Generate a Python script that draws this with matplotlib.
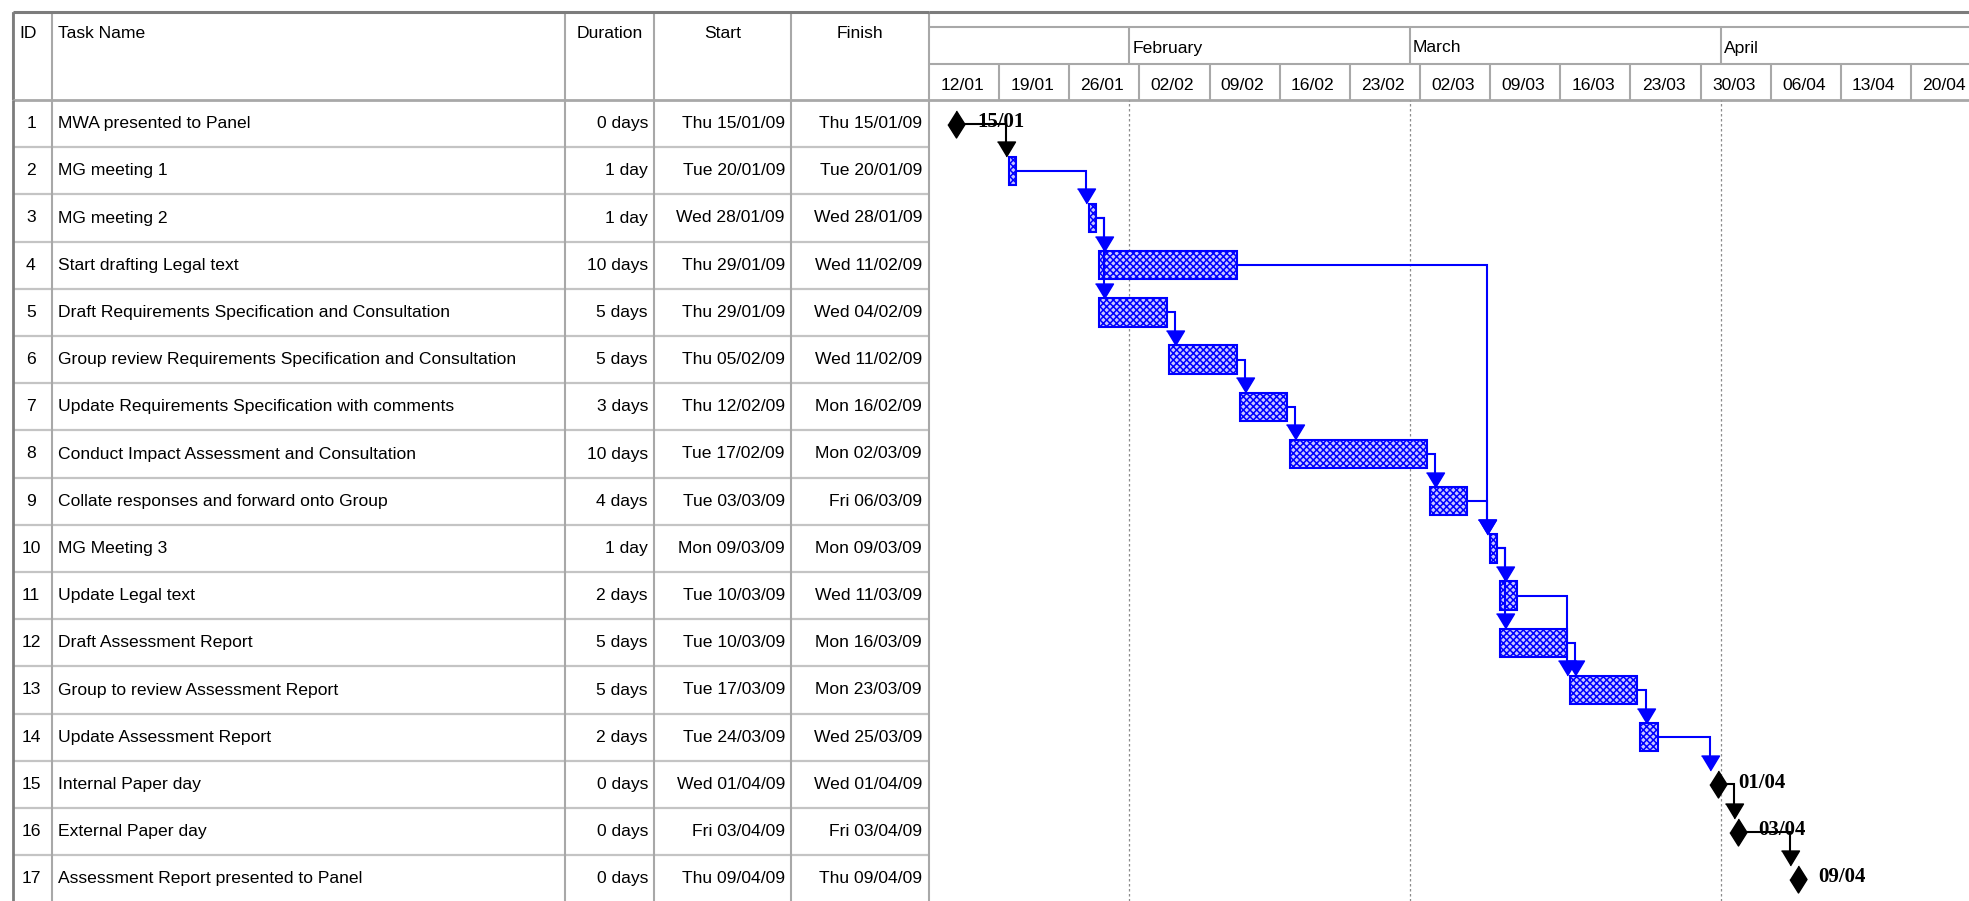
import numpy as np
import pandas as pd
import matplotlib
matplotlib.use("Agg")
import matplotlib.pyplot as plt
import matplotlib.dates as mdates
from matplotlib.patches import Rectangle
from matplotlib import font_manager

# Step 1: task table
task_ids = np.arange(1, 18)
task_names = [
    "MWA presented to Panel",
    "MG meeting 1",
    "MG meeting 2",
    "Start drafting Legal text",
    "Draft Requirements Specification and Consultation",
    "Group review Requirements Specification and Consultation",
    "Update Requirements Specification with comments",
    "Conduct Impact Assessment and Consultation",
    "Collate responses and forward onto Group",
    "MG Meeting 3",
    "Update Legal text",
    "Draft Assessment Report",
    "Group to review Assessment Report",
    "Update Assessment Report",
    "Internal Paper day",
    "External Paper day",
    "Assessment Report presented to Panel",
]
durations = ["0 days", "1 day", "1 day", "10 days", "5 days", "5 days", "3 days", "10 days",
             "4 days", "1 day", "2 days", "5 days", "5 days", "2 days", "0 days", "0 days",
             "0 days"]
starts = ["Thu 15/01/09", "Tue 20/01/09", "Wed 28/01/09", "Thu 29/01/09", "Thu 29/01/09",
          "Thu 05/02/09", "Thu 12/02/09", "Tue 17/02/09", "Tue 03/03/09", "Mon 09/03/09",
          "Tue 10/03/09", "Tue 10/03/09", "Tue 17/03/09", "Tue 24/03/09", "Wed 01/04/09",
          "Fri 03/04/09", "Thu 09/04/09"]
finishes = ["Thu 15/01/09", "Tue 20/01/09", "Wed 28/01/09", "Wed 11/02/09", "Wed 04/02/09",
            "Wed 11/02/09", "Mon 16/02/09", "Mon 02/03/09", "Fri 06/03/09", "Mon 09/03/09",
            "Wed 11/03/09", "Mon 16/03/09", "Mon 23/03/09", "Wed 25/03/09", "Wed 01/04/09",
            "Fri 03/04/09", "Thu 09/04/09"]
predecessors = [[], [1], [2], [3], [3], [5], [6], [7], [8], [4, 9], [10], [10], [11, 12],
                [13], [14], [15], [16]]

# timescale
week_labels = ["12/01", "19/01", "26/01", "02/02", "09/02", "16/02", "23/02", "02/03",
               "09/03", "16/03", "23/03", "30/03", "06/04", "13/04", "20/04"]
month_labels = ["February", "March", "April"]
month_starts = ["01/02/09", "01/03/09", "01/04/09"]

# Step 2: layout (pixels of the 1969x901 screenshot)
W, H = 1969, 901
TOP, TIER1, TIER2, HEAD = 12, 27, 64, 100
ROW_H = 47.2
COLS = [13, 52, 565, 654, 791, 929]
DAY_PX = 10.02
GRID = "#a8a8a8"
BORDER = "#7c7c7c"

names = {f.name for f in font_manager.fontManager.ttflist}
if "Liberation Sans Narrow" in names:
    plt.rcParams["font.family"] = ["Liberation Sans Narrow", "DejaVu Sans"]
    FS = 15
else:
    plt.rcParams["font.family"] = ["Liberation Sans", "DejaVu Sans"]
    FS = 12.6
plt.rcParams["hatch.linewidth"] = 1.1


def to_num(labels):
    d = pd.to_datetime([s.split()[-1] for s in labels], format="%d/%m/%y")
    return mdates.date2num(d)


start_num = to_num(starts)
finish_num = to_num(finishes)
milestone = np.array([d.startswith("0 ") for d in durations])
bar_left = start_num
bar_right = finish_num + 17 / 24
ms_x = start_num - 7 / 24
week_num = to_num([w + "/09" for w in week_labels])
month_num = to_num(month_starts)

fig = plt.figure(figsize=(W / 100, H / 100), dpi=100)


def add_ax(x0, y0, x1, y1):
    ax = fig.add_axes([x0 / W, 1 - y1 / H, (x1 - x0) / W, (y1 - y0) / H])
    ax.set_axis_off()
    return ax


y_bottom = 0.5 + (H - HEAD) / ROW_H
x_left = week_num[0]
x_right = x_left + (W - COLS[-1]) / DAY_PX

ax_ht = add_ax(0, 0, COLS[-1], HEAD)
ax_ht.set_xlim(0, COLS[-1])
ax_ht.set_ylim(HEAD, 0)
ax_hg = add_ax(COLS[-1], 0, W, HEAD)
ax_hg.set_xlim(x_left, x_right)
ax_hg.set_ylim(HEAD, 0)
ax_tab = add_ax(0, HEAD, COLS[-1], H)
ax_tab.set_xlim(0, COLS[-1])
ax_tab.set_ylim(y_bottom, 0.5)
ax_g = add_ax(COLS[-1], HEAD, W, H)
ax_g.set_xlim(x_left, x_right)
ax_g.set_ylim(y_bottom, 0.5)

# Step 3: table header and body
ax_ht.text(19, 33, "ID", ha="left", va="center", fontsize=FS)
ax_ht.text(58, 33, "Task Name", ha="left", va="center", fontsize=FS)
for (a, b), label in zip([(COLS[2], COLS[3]), (COLS[3], COLS[4]), (COLS[4], COLS[5])],
                         ["Duration", "Start", "Finish"]):
    ax_ht.text((a + b) / 2, 33, label, ha="center", va="center", fontsize=FS)
ax_ht.vlines(COLS, TOP, HEAD, colors=GRID, lw=1.5, clip_on=False)
ax_ht.vlines(COLS[0], TOP, HEAD, colors=BORDER, lw=2, clip_on=False)
ax_ht.hlines(TOP, COLS[0], COLS[-1], colors=BORDER, lw=2.2, clip_on=False)
ax_ht.hlines(HEAD, COLS[0], COLS[-1], colors=GRID, lw=2, clip_on=False)

rows = np.arange(1, len(task_ids) + 1)
for y, tid, name, dur, st, fi in zip(rows, task_ids, task_names, durations, starts, finishes):
    ax_tab.text(31, y, str(tid), ha="center", va="center", fontsize=FS)
    ax_tab.text(58, y, name, ha="left", va="center", fontsize=FS)
    ax_tab.text(648, y, dur, ha="right", va="center", fontsize=FS)
    ax_tab.text(785, y, st, ha="right", va="center", fontsize=FS)
    ax_tab.text(922, y, fi, ha="right", va="center", fontsize=FS)
ax_tab.hlines(rows[:-1] + 0.5, COLS[0], COLS[-1], colors="#c4c4c4", lw=1.6)
ax_tab.vlines(COLS[1:], 0.5, y_bottom, colors=GRID, lw=1.5, clip_on=False)
ax_tab.vlines(COLS[0], 0.5, y_bottom, colors=BORDER, lw=2, clip_on=False)

# Step 4: timescale
ax_hg.hlines(TOP, x_left, x_right, colors=BORDER, lw=2.2, clip_on=False)
ax_hg.hlines([TIER1, TIER2], x_left, x_right, colors=GRID, lw=1.5, clip_on=False)
ax_hg.hlines(HEAD, x_left, x_right, colors=GRID, lw=2, clip_on=False)
ax_hg.vlines(month_num, TIER1, TIER2, colors=GRID, lw=1.5)
ax_hg.vlines(week_num[1:], TIER2, HEAD, colors=GRID, lw=1.5)
for m, label in zip(month_num, month_labels):
    ax_hg.text(m + 0.3, 48, label, ha="left", va="center", fontsize=FS)
for w, label in zip(week_num, week_labels):
    ax_hg.text(w + 3.3, 85, label, ha="center", va="center", fontsize=FS)

# Step 5: gantt bars, milestones and links
for m in month_num:
    ax_g.axvline(m, color="#8c8c8c", lw=0.9, ls=(0, (2, 2)), zorder=1)

px_row = 1 / ROW_H
bar_h = 0.6
ms_half_w = 8.5 / DAY_PX
ms_half_h = 13.5 * px_row
arrow_h = 15 * px_row
arrow_marker = [(-1, 0.83), (1, 0.83), (0, -0.83)]
diamond_marker = [(0, 1), (0.63, 0), (0, -1), (-0.63, 0)]

for y, is_ms, left, right, mx in zip(rows, milestone, bar_left, bar_right, ms_x):
    if is_ms:
        ax_g.plot(mx, y, marker=diamond_marker, ms=27 * 0.72, color="black", zorder=5)
    else:
        ax_g.add_patch(Rectangle((left, y - bar_h / 2), right - left, bar_h,
                                 facecolor="#c8c8ff", edgecolor="blue", hatch="xxxxx",
                                 lw=1.5, zorder=3))

for i, preds in enumerate(predecessors):
    succ_y = rows[i]
    if milestone[i]:
        succ_start = ms_x[i] - 0.45
        tip = succ_y - ms_half_h
    else:
        succ_start = bar_left[i]
        tip = succ_y - bar_h / 2
    for p in preds:
        j = p - 1
        pred_end = ms_x[j] + ms_half_w if milestone[j] else bar_right[j]
        color = "black" if milestone[j] else "blue"
        xv = max(succ_start - 0.3, pred_end + 0.8)
        ax_g.plot([pred_end, xv, xv], [rows[j], rows[j], tip - arrow_h / 2],
                  color=color, lw=1.5, zorder=4, solid_joinstyle="miter")
        ax_g.plot(xv, tip - arrow_h / 2, marker=arrow_marker, ms=18 * 0.72,
                  color=color, zorder=6)

for y, is_ms, mx, st in zip(rows, milestone, ms_x, starts):
    if is_ms:
        ax_g.annotate(st.split()[-1][:5], (mx, y), xytext=(15, 1), textcoords="offset points",
                      ha="left", va="center", fontsize=15, fontweight="bold",
                      family="Liberation Serif", zorder=7)

fig.savefig("out.png", dpi=100)
